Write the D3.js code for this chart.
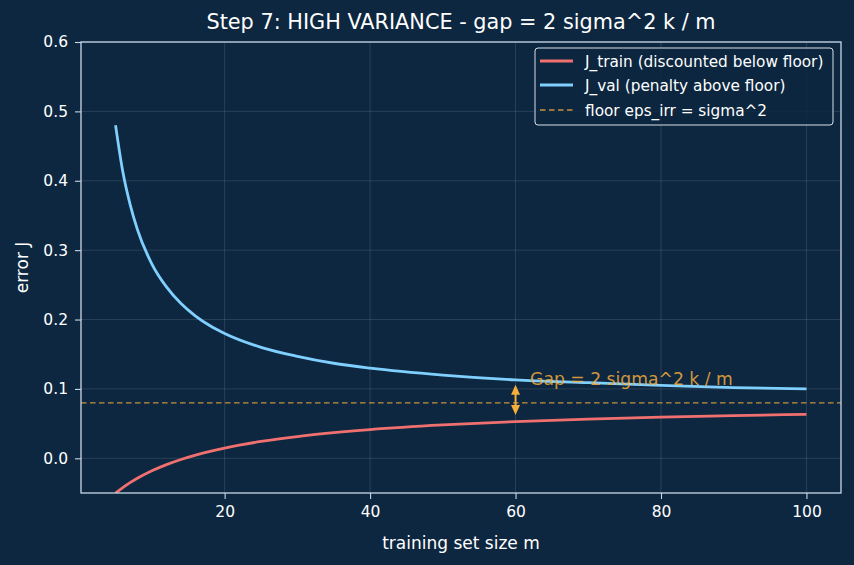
<!DOCTYPE html>
<html><head><meta charset="utf-8">
<script src="https://cdn.jsdelivr.net/npm/d3@7"></script>
<style>
html,body{margin:0;padding:0;background:#0d2740;}
svg{display:block;font-family:"DejaVu Sans",sans-serif;}
</style></head>
<body><svg id="c" width="854" height="565"></svg>
<script>
const mValues = [5,6,7,8,10,12,14,16,18,20,25,30,35,40,50,60,70,80,90,100];
const jTrain  = [-0.0503,-0.0422,-0.0351,-0.0288,-0.0180,-0.0091,-0.0017,0.0046,0.0101,0.0148,0.0243,0.0314,0.0369,0.0414,0.0481,0.0529,0.0565,0.0593,0.0616,0.0634];
const jVal    = [0.480,0.413,0.366,0.330,0.280,0.247,0.223,0.205,0.191,0.180,0.160,0.147,0.137,0.130,0.120,0.113,0.109,0.105,0.102,0.100];
const floorValue = 0.08;
const gapAt = 60;
const gapArrow = [0.0623, 0.106];
const xTicks = [20,40,60,80,100];
const yTicks = [0.0,0.1,0.2,0.3,0.4,0.5,0.6];
const legendLabels = ["J_train (discounted below floor)","J_val (penalty above floor)","floor eps_irr = sigma^2"];
const titleText = "Step 7: HIGH VARIANCE - gap = 2 sigma^2 k / m";
const gapText = "Gap = 2 sigma^2 k / m";

const W=854,H=565, L=81, R=841, T=42, B=493;
const bg="#0d2740", red="#f07070", blue="#80d0ff", orange="#f5ad3c", spine="#c8d8e8";
const svg=d3.select("#c");
svg.append("rect").attr("width",W).attr("height",H).attr("fill",bg);
const x=d3.scaleLinear().domain([0.25,104.75]).range([L,R]);
const y=d3.scaleLinear().domain([-0.05,0.6]).range([B,T]);

svg.append("defs").append("clipPath").attr("id","clip").append("rect")
  .attr("x",L).attr("y",T).attr("width",R-L).attr("height",B-T);

// grid
const g=svg.append("g");
g.selectAll(".gx").data(xTicks).join("line").attr("x1",d=>x(d)).attr("x2",d=>x(d)).attr("y1",T).attr("y2",B)
  .attr("stroke","#ffffff").attr("stroke-opacity",0.15).attr("stroke-width",0.8);
g.selectAll(".gy").data(yTicks).join("line").attr("y1",d=>y(d)).attr("y2",d=>y(d)).attr("x1",L).attr("x2",R)
  .attr("stroke","#ffffff").attr("stroke-opacity",0.15).attr("stroke-width",0.8);

const plot=svg.append("g").attr("clip-path","url(#clip)");
// floor
plot.append("line").attr("x1",L).attr("x2",R).attr("y1",y(floorValue)).attr("y2",y(floorValue))
  .attr("stroke",orange).attr("stroke-opacity",0.8).attr("stroke-width",1.3).attr("stroke-dasharray","5.5,3.5");
const line=(arr)=>d3.line().x((d,i)=>x(mValues[i])).y(d=>y(d)).curve(d3.curveMonotoneX)(arr);
plot.append("path").attr("d",line(jTrain)).attr("fill","none").attr("stroke",red).attr("stroke-width",2.8);
plot.append("path").attr("d",line(jVal)).attr("fill","none").attr("stroke",blue).attr("stroke-width",2.8);

// arrow
const ax=x(gapAt), ya=y(gapArrow[0]), yb=y(gapArrow[1]);
plot.append("line").attr("x1",ax).attr("x2",ax).attr("y1",ya-6).attr("y2",yb+6).attr("stroke",orange).attr("stroke-width",2);
plot.append("path").attr("d",`M${ax},${yb} L${ax-4.5},${yb+10} L${ax+4.5},${yb+10} Z`).attr("fill",orange);
plot.append("path").attr("d",`M${ax},${ya} L${ax-4.5},${ya-10} L${ax+4.5},${ya-10} Z`).attr("fill",orange);
svg.append("text").attr("x",x(62)).attr("y",385).attr("fill",orange).attr("fill-opacity",0.85)
  .attr("font-size",17.2).text(gapText);

// axes
const xa=svg.append("g").attr("transform",`translate(0,${B})`).call(d3.axisBottom(x).tickValues(xTicks).tickSize(6).tickPadding(7).tickFormat(d3.format("d")));
const ya2=svg.append("g").attr("transform",`translate(${L},0)`).call(d3.axisLeft(y).tickValues(yTicks).tickSize(6).tickPadding(7).tickFormat(d3.format(".1f")));
[xa,ya2].forEach(a=>{a.select(".domain").remove();a.selectAll("line").attr("stroke",spine).attr("stroke-width",1.1);
  a.selectAll("text").attr("fill","#ffffff").attr("font-size",15.5).attr("font-family","DejaVu Sans");});
svg.append("rect").attr("x",L).attr("y",T).attr("width",R-L).attr("height",B-T).attr("fill","none").attr("stroke",spine).attr("stroke-width",1.3);

svg.append("text").attr("x",(L+R)/2).attr("y",29).attr("text-anchor","middle").attr("fill","#ffffff").attr("font-size",20.8).text(titleText);
svg.append("text").attr("x",(L+R)/2).attr("y",549).attr("text-anchor","middle").attr("fill","#ffffff").attr("font-size",17).text("training set size m");
svg.append("text").attr("transform",`translate(28,${(T+B)/2}) rotate(-90)`).attr("text-anchor","middle").attr("fill","#ffffff").attr("font-size",17).text("error J");

// legend
const lg=svg.append("g");
lg.append("rect").attr("x",535).attr("y",48).attr("width",298).attr("height",77).attr("rx",3)
  .attr("fill",bg).attr("fill-opacity",0.85).attr("stroke","#d8e0e8").attr("stroke-width",1);
const ly=[61,85,110], lc=[red,blue,orange];
legendLabels.forEach((t,i)=>{
  const l=lg.append("line").attr("x1",540).attr("x2",573).attr("y1",ly[i]).attr("y2",ly[i]).attr("stroke",lc[i]);
  if(i<2) l.attr("stroke-width",2.8); else l.attr("stroke-width",1.3).attr("stroke-opacity",0.8).attr("stroke-dasharray","5.5,3.5");
  lg.append("text").attr("x",585).attr("y",ly[i]+5.5).attr("fill","#ffffff").attr("font-size",15.3).text(t);
});
</script></body></html>
